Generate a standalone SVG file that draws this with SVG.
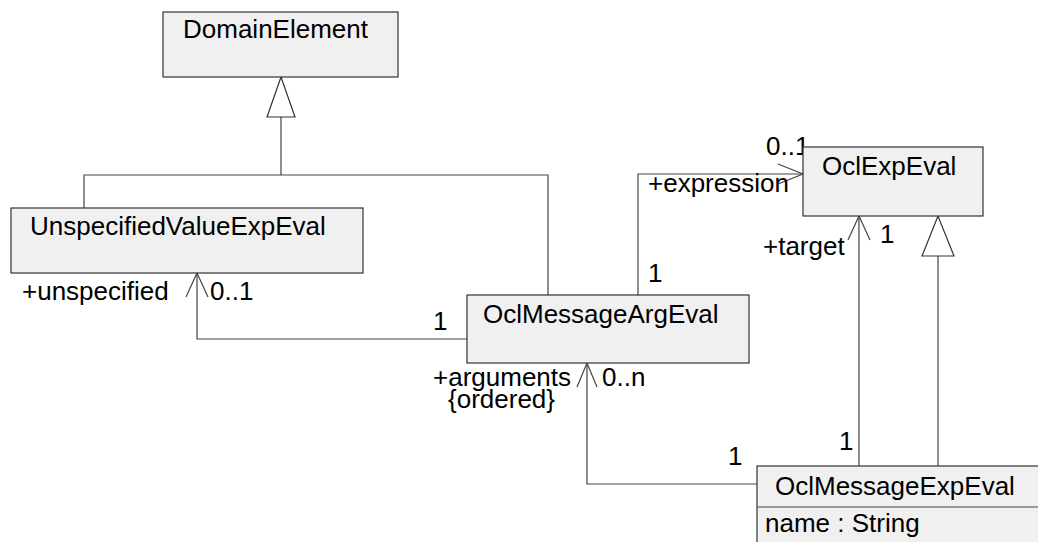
<svg xmlns="http://www.w3.org/2000/svg" width="1038" height="542" viewBox="0 0 1038 542">
<style>
.box{fill:#f0f0f0;stroke:#333;stroke-width:1.2}
.ln{fill:none;stroke:#444;stroke-width:1.2}
.tri{fill:#fff;stroke:#333;stroke-width:1.2}
text{font-family:"Liberation Sans",Arial,sans-serif;font-size:26px;fill:#000}
</style>
<rect width="1038" height="542" fill="#fff"/>
<g id="connectors">
  <polyline class="ln" points="84,208 84,175 548,175 548,295"/>
  <line class="ln" x1="281" y1="117" x2="281" y2="175"/>
  <polygon class="tri" points="281,77 267,117 295,117"/>
  <polyline class="ln" points="467,339 197,339 197,273"/>
  <polyline class="ln" points="186,297 197,273 208,297"/>
  <polyline class="ln" points="638,295 638,174 803,174"/>
  <polyline class="ln" points="778,164 803,174 778,184"/>
  <line class="ln" x1="859" y1="216" x2="859" y2="466"/>
  <polyline class="ln" points="848,240 859,216 870,240"/>
  <line class="ln" x1="938" y1="256" x2="938" y2="466"/>
  <polygon class="tri" points="938,216 922,256 954,256"/>
  <polyline class="ln" points="757,484 587,484 587,363"/>
  <polyline class="ln" points="577,387 587,363 597,387"/>
  <text x="22" y="300">+unspecified</text>
  <text x="210" y="300">0..1</text>
  <text x="433" y="330">1</text>
  <text x="648" y="192">+expression</text>
  <text x="766" y="155">0..1</text>
  <text x="648" y="282">1</text>
  <text x="763" y="255">+target</text>
  <text x="880" y="243">1</text>
  <text x="433" y="386">+arguments</text>
  <text x="448" y="408">{ordered}</text>
  <text x="602" y="386">0..n</text>
  <text x="728" y="465">1</text>
  <text x="839" y="450">1</text>
</g>
<g id="DomainElement">
  <rect class="box" x="163" y="12" width="235" height="65"/>
  <text x="183" y="38">DomainElement</text>
</g>
<g id="UnspecifiedValueExpEval">
  <rect class="box" x="11" y="208" width="352" height="65"/>
  <text x="30" y="235">UnspecifiedValueExpEval</text>
</g>
<g id="OclMessageArgEval">
  <rect class="box" x="467" y="295" width="282" height="68"/>
  <text x="483" y="323">OclMessageArgEval</text>
</g>
<g id="OclExpEval">
  <rect class="box" x="803" y="147" width="180" height="69"/>
  <text x="822" y="175">OclExpEval</text>
</g>
<g id="OclMessageExpEval">
  <rect class="box" x="757" y="466" width="300" height="90"/>
  <line class="ln" x1="757" y1="507" x2="1045" y2="507"/>
  <text x="775" y="495">OclMessageExpEval</text>
  <text x="765" y="532">name : String</text>
</g>
</svg>
